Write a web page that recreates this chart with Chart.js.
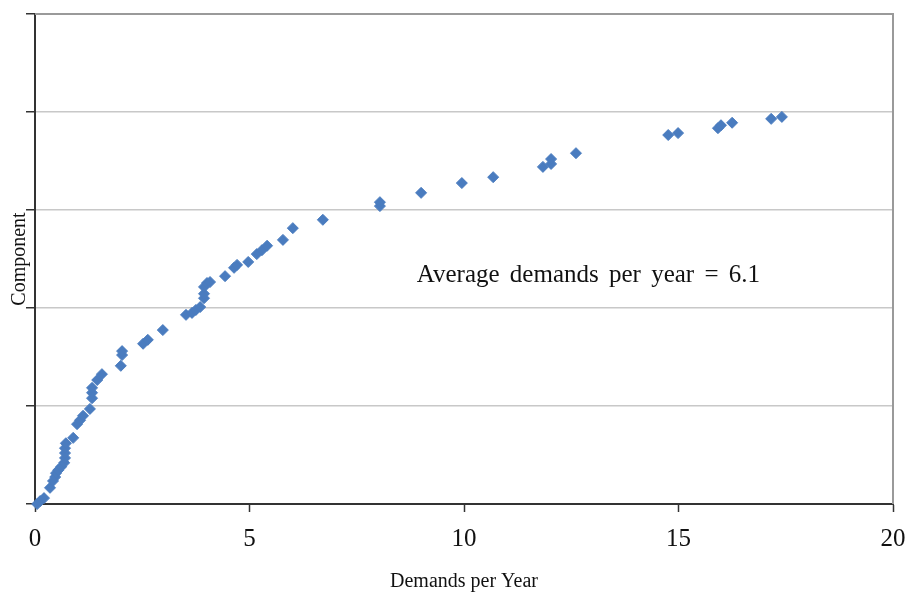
<!DOCTYPE html>
<html>
<head>
<meta charset="utf-8">
<script src="https://cdn.jsdelivr.net/npm/chart.js@4.4.1/dist/chart.umd.min.js"></script>
<style>
  body { margin: 0; background: #fff; }
</style>
</head>
<body>
<canvas id="demandChart" width="909" height="593"></canvas>
<script>
    // demands per year for each component
    const demandValues = [0.05, 0.12, 0.21, 0.35, 0.42, 0.47, 0.49, 0.54, 0.61, 0.68,
        0.70, 0.70, 0.70, 0.72, 0.89, 0.98, 1.05, 1.12, 1.28, 1.33,
        1.33, 1.33, 1.45, 1.56, 2.00, 2.03, 2.03, 2.52, 2.63, 2.98,
        3.52, 3.66, 3.75, 3.85, 3.94, 3.94, 3.94, 4.01, 4.08, 4.43,
        4.64, 4.71, 4.97, 5.17, 5.29, 5.41, 5.78, 6.01, 6.71, 8.04,
        8.04, 9.00, 9.95, 10.68, 11.84, 12.03, 12.03, 12.61, 14.76, 14.99,
        15.92, 15.99, 16.25, 17.16, 17.41];
    // component position on the vertical axis (0-100, no labels shown)
    const componentValues = [0.0, 0.6, 1.2, 3.3, 4.7, 5.5, 6.3, 6.9, 7.6, 8.4,
        9.4, 10.4, 11.4, 12.4, 13.5, 16.3, 17.1, 18.0, 19.4, 21.6,
        22.7, 23.7, 25.3, 26.5, 28.2, 30.4, 31.2, 32.7, 33.5, 35.5,
        38.6, 39.0, 39.6, 40.2, 42.0, 42.9, 44.3, 45.1, 45.3, 46.5,
        48.2, 48.8, 49.4, 51.0, 51.8, 52.7, 53.9, 56.3, 58.0, 60.8,
        61.6, 63.5, 65.5, 66.7, 68.8, 69.4, 70.4, 71.6, 75.3, 75.7,
        76.7, 77.3, 77.8, 78.6, 79.0];
    const xTicks = [0, 5, 10, 15, 20];
    const averageText = "Average demands per year = 6.1";
    const averageAt = { x: 8.9, y: 45.3 };

    const points = demandValues.map((d, i) => ({ x: d, y: componentValues[i] }));

    const serif = "'Liberation Serif', 'Times New Roman', serif";

    // frame on top/right + the average note
    const extras = {
        id: "extras",
        afterDraw(chart) {
            const ctx = chart.ctx;
            const a = chart.chartArea;
            ctx.save();
            ctx.strokeStyle = "#9a9a9a";
            ctx.lineWidth = 2;
            ctx.beginPath();
            ctx.moveTo(a.left, a.top);
            ctx.lineTo(a.right, a.top);
            ctx.lineTo(a.right, a.bottom);
            ctx.stroke();

            ctx.fillStyle = "#111";
            ctx.font = "25px " + serif;
            ctx.wordSpacing = "4px";
            ctx.textBaseline = "alphabetic";
            ctx.textAlign = "left";
            ctx.fillText(averageText,
                chart.scales.x.getPixelForValue(averageAt.x),
                chart.scales.y.getPixelForValue(averageAt.y));
            ctx.restore();
        }
    };

    new Chart("demandChart", {
        type: "scatter",
        data: {
            datasets: [{
                data: points,
                backgroundColor: "#4a7cbf",
                borderColor: "#4a7cbf",
                borderWidth: 1,
                pointStyle: "rectRot",
                pointRadius: 5.5,
                clip: false
            }]
        },
        options: {
            responsive: false,
            animation: false,
            layout: { padding: { left: 0, right: 16, top: 14, bottom: 0 } },
            plugins: {
                legend: { display: false },
                tooltip: { enabled: false }
            },
            scales: {
                x: {
                    type: "linear",
                    min: 0,
                    max: 20,
                    afterBuildTicks: (scale) => { scale.ticks = xTicks.map(v => ({ value: v })); },
                    afterFit: (scale) => {
                        scale.height = 89;
                        scale.paddingLeft = 0;
                        scale.paddingRight = 0;
                    },
                    grid: {
                        drawOnChartArea: false,
                        drawTicks: true,
                        tickLength: 8,
                        tickColor: "#333",
                        tickWidth: 1.5
                    },
                    border: { display: true, color: "#333", width: 2 },
                    ticks: {
                        color: "#111",
                        font: { family: serif, size: 25 },
                        padding: 12,
                        maxRotation: 0
                    },
                    title: {
                        display: true,
                        text: "Demands per Year",
                        color: "#111",
                        font: { family: serif, size: 20, lineHeight: 1 },
                        padding: { top: 0, bottom: 1 }
                    }
                },
                y: {
                    type: "linear",
                    min: 0,
                    max: 100,
                    ticks: { display: false, stepSize: 20 },
                    afterFit: (scale) => { scale.width = 35; },
                    grid: {
                        color: "#c8c8c8",
                        lineWidth: 1.5,
                        drawTicks: true,
                        tickLength: 9,
                        tickColor: "#333",
                        tickWidth: 1.5
                    },
                    border: { display: true, color: "#333", width: 2 },
                    title: {
                        display: true,
                        text: "Component",
                        color: "#111",
                        font: { family: serif, size: 20, lineHeight: 1 },
                        padding: { top: 10, bottom: 0 }
                    }
                }
            }
        },
        plugins: [extras]
    });
</script>
</body>
</html>
